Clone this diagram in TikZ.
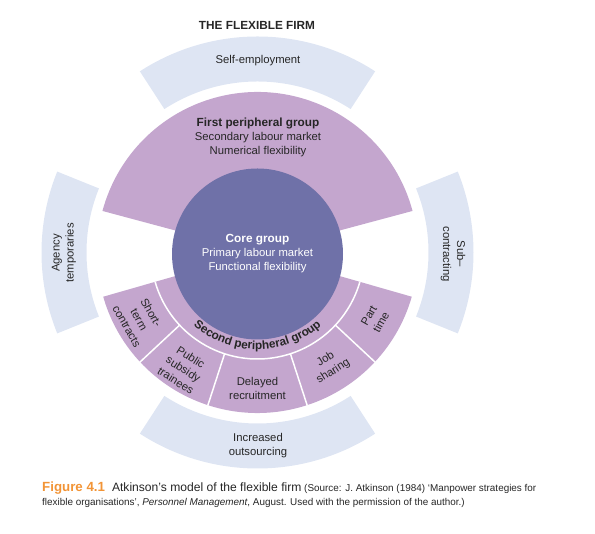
\documentclass[tikz,border=0pt]{standalone}
\usepackage{fontspec}
\setmainfont{Liberation Sans}
\usetikzlibrary{decorations.text}
\definecolor{purp}{HTML}{C4A6CE}
\definecolor{corec}{HTML}{6F71A8}
\definecolor{bluec}{HTML}{DEE5F3}
\definecolor{orangec}{HTML}{F29436}
\newcommand{\ringsector}[5]{\fill[#1] (#2:#4) -- (#2:#5) arc[start angle=#2, end angle=#3, radius=#5] -- (#3:#4) arc[start angle=#3, end angle=#2, radius=#4] -- cycle;}
\tikzset{
  lbl/.style={font=\fontsize{11.3}{14}\selectfont, align=center, inner sep=0pt, text=black!85},
  boldlbl/.style={font=\fontsize{11.8}{14}\selectfont\bfseries, align=center, inner sep=0pt, text=black!85},
  divider/.style={white, line width=1.5pt},
}
\begin{document}
\begin{tikzpicture}[x=1pt, y=1pt]
\useasboundingbox (0,0) rectangle (595,534);
\coordinate (C) at (257.5,281.5);

\begin{scope}[shift={(C)}]
  % outer light blue ring segments
  \ringsector{bluec}{57}{123}{171pt}{216pt}
  \ringsector{bluec}{158}{202}{171pt}{216pt}
  \ringsector{bluec}{-22}{22}{171pt}{216pt}
  \ringsector{bluec}{237}{303}{171pt}{216pt}
  % first peripheral group
  \fill[purp] (0,0) -- (15:160.5pt) arc[start angle=15, end angle=165, radius=160.5pt] -- cycle;
  % second peripheral group
  \fill[purp] (0,0) -- (196:160.5pt) arc[start angle=196, end angle=344, radius=160.5pt] -- cycle;
  % dividers
  \draw[divider] (196:106.5pt) arc[start angle=196, end angle=344, radius=106.5pt];
  \foreach \a in {-137,-108,-72,-43} {
    \draw[divider] (\a:106.5pt) -- (\a:161pt);
  }
  % second peripheral group label along arc
  \path[decorate, decoration={text along path, text align=center,
    text={|\fontsize{11.8}{12}\selectfont\bfseries\color{black!85}|Second peripheral group}}]
    (-140:97pt) arc[start angle=-140, end angle=-40, radius=97pt];
  % segment labels
  \node[lbl, rotate=-60.5] (short) at (-150.5:136pt) {Short-\\term\\contracts};
  \node[lbl, rotate=-32.5] (public) at (-122.5:138pt) {Public\\subsidy\\trainees};
  \node[lbl] (delayed) at (-90:136pt) {Delayed\\recruitment};
  \node[lbl, rotate=32.5] (job) at (-57.5:134pt) {Job\\sharing};
  \node[lbl, rotate=60.5] (part) at (-29.5:135pt) {Part\\time};
\end{scope}

% core
\node[circle, fill=corec, minimum size=171pt, inner sep=0pt, align=center, text=white,
  font=\fontsize{11.3}{14}\selectfont] (core) at (257.5,280)
  {{\fontsize{11.8}{14}\selectfont\bfseries Core group}\\Primary labour market\\Functional flexibility};

% title
\node[boldlbl] (title) at (257,509) {THE FLEXIBLE FIRM};

% first peripheral text
\node[lbl] (first) at (258,397)
  {{\fontsize{11.8}{14}\selectfont\bfseries First peripheral group}\\Secondary labour market\\Numerical flexibility};

% outer ring labels
\node[lbl] (self) at (258,473) {Self-employment};
\node[lbl, rotate=90] (agency) at (64,281) {Agency\\temporaries};
\node[lbl, rotate=-90] (sub) at (453,280) {Sub–\\contracting};
\node[lbl] (outs) at (258,88) {Increased\\outsourcing};

% caption
\node[anchor=base west, inner sep=0pt, text=black!85] (cap1) at (42,42)
  {{\color{orangec}\fontsize{13.3}{16}\selectfont\bfseries Figure 4.1}\hspace{7pt}{\fontsize{12.1}{14}\selectfont Atkinson’s model of the flexible firm} {\fontsize{9.9}{11}\selectfont (Source: J. Atkinson (1984) ‘Manpower strategies for}};
\node[anchor=base west, inner sep=0pt, text=black!85, font=\fontsize{9.9}{11}\selectfont] (cap2) at (42,28)
  {flexible organisations’, \textit{Personnel Management}, August. Used with the permission of the author.)};
\end{tikzpicture}
\end{document}
